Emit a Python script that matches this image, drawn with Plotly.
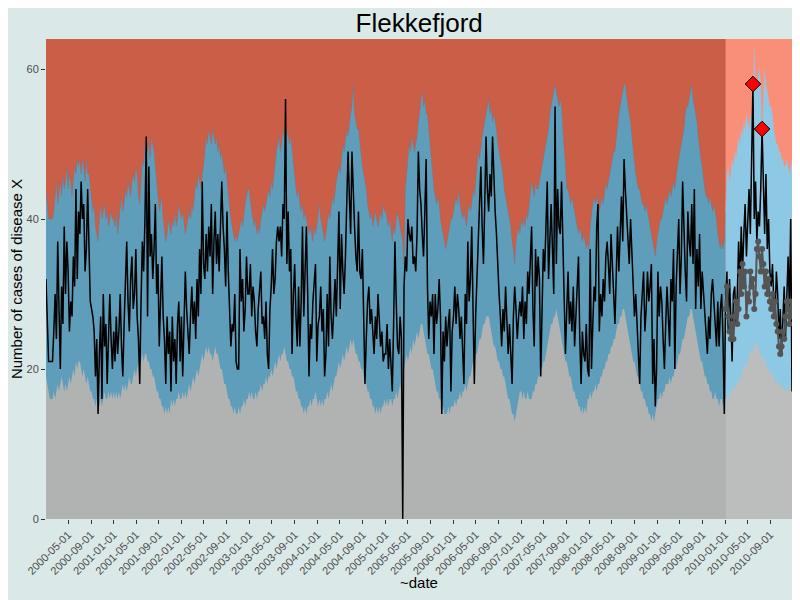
import pandas as pd
import plotly.graph_objects as go

# weekly counts of disease X, Flekkefjord, one list per ISO year (2004 and 2009 have 53 weeks)
obs_2000 = [32, 26, 21, 21, 21, 21, 25, 30, 24, 37, 28, 20, 31, 26, 39, 30, 37, 33, 25, 29,
            27, 35, 31, 44, 32, 41, 38, 45, 40, 42, 33, 36, 44, 37, 29, 28, 27, 25, 19, 24,
            14, 22, 27, 16, 30, 23, 26, 18, 25, 30, 24, 20]
obs_2001 = [25, 21, 27, 22, 25, 30, 23, 19, 26, 31, 37, 29, 25, 32, 35, 28, 30, 36, 27, 24,
            18, 29, 37, 33, 40, 51, 27, 47, 35, 38, 32, 36, 42, 30, 34, 23, 29, 35, 27, 24,
            18, 27, 22, 25, 17, 27, 21, 24, 18, 26, 29, 21]
obs_2002 = [27, 19, 26, 33, 28, 24, 22, 27, 31, 26, 29, 24, 32, 27, 36, 30, 45, 34, 32, 38,
            33, 39, 35, 42, 30, 37, 41, 34, 38, 33, 40, 45, 39, 36, 31, 41, 33, 28, 23, 26,
            25, 30, 21, 20, 20, 36, 29, 32, 25, 28, 35, 30]
obs_2003 = [30, 34, 27, 31, 29, 25, 23, 28, 31, 33, 26, 27, 24, 29, 22, 20, 28, 31, 36, 30,
            32, 37, 39, 37, 39, 35, 42, 40, 56, 34, 41, 33, 36, 22, 30, 34, 27, 23, 31, 23,
            29, 39, 27, 33, 39, 30, 19, 26, 24, 29, 31, 34]
obs_2004 = [21, 26, 27, 31, 25, 28, 19, 22, 30, 23, 35, 27, 24, 29, 32, 27, 36, 41, 28, 38,
            33, 30, 35, 41, 49, 43, 38, 49, 43, 39, 35, 33, 41, 33, 32, 36, 27, 18, 24, 29,
            31, 26, 28, 25, 22, 27, 24, 30, 26, 23, 25, 21, 22]
obs_2005 = [22, 26, 20, 24, 21, 17, 26, 37, 29, 23, 22, 27, 24, 0, 31, 35, 33, 40, 38, 37,
            39, 34, 35, 33, 38, 49, 44, 42, 38, 35, 41, 48, 31, 24, 29, 27, 30, 22, 30, 26,
            28, 32, 27, 14, 25, 21, 27, 23, 26, 28, 17, 25]
obs_2006 = [27, 31, 26, 30, 28, 24, 27, 23, 18, 30, 26, 37, 29, 32, 39, 28, 18, 27, 32, 36,
            40, 47, 39, 34, 42, 51, 44, 41, 46, 43, 51, 45, 41, 38, 33, 30, 27, 23, 28, 25,
            31, 27, 22, 26, 21, 18, 27, 31, 28, 24, 27, 29]
obs_2007 = [27, 31, 24, 29, 26, 33, 30, 35, 39, 28, 23, 36, 31, 35, 32, 19, 27, 36, 33, 40,
            45, 32, 38, 42, 36, 30, 55, 34, 44, 39, 38, 45, 37, 29, 22, 28, 33, 26, 29, 25,
            31, 23, 27, 30, 35, 24, 18, 25, 22, 21, 26, 20]
obs_2008 = [19, 36, 20, 26, 31, 29, 39, 42, 25, 30, 27, 32, 29, 35, 37, 34, 30, 38, 33, 30,
            26, 35, 39, 33, 40, 43, 37, 48, 44, 41, 38, 34, 40, 36, 31, 27, 30, 26, 24, 18,
            27, 30, 33, 25, 28, 33, 29, 31, 34, 18, 24, 15]
obs_2009 = [20, 33, 27, 31, 29, 24, 20, 26, 31, 27, 23, 32, 29, 36, 20, 31, 36, 40, 30, 35,
            45, 38, 33, 29, 41, 37, 35, 42, 34, 44, 28, 36, 31, 38, 28, 33, 30, 28, 25, 22,
            27, 24, 30, 32, 29, 25, 23, 29, 23, 28, 30, 24, 14]
obs_2010 = [29, 33, 25, 32, 27, 21, 30, 31, 26, 30, 37, 31, 39, 33, 38, 42, 35, 40, 44, 38,
            46, 58, 40, 45, 37, 41, 39, 44, 52, 43, 38, 46, 36, 40, 33, 31, 34, 29, 27, 33,
            30, 24, 28, 22, 26, 31, 24, 29, 35, 28, 40, 17]

# upper alert threshold
upper_2000 = [44, 42, 40, 40, 40, 40, 41, 43, 45, 42, 44, 45, 43, 46, 44, 45, 47, 44, 46, 45,
              43, 45, 47, 46, 48, 47, 48, 46, 48, 47, 45, 48, 46, 46, 44, 43, 41, 42, 39, 38,
              37, 40, 42, 40, 41, 42, 40, 41, 39, 40, 41, 40]
upper_2001 = [40, 39, 41, 38, 40, 42, 43, 41, 42, 44, 43, 45, 44, 43, 45, 46, 45, 47, 46, 43,
              42, 45, 48, 47, 50, 51, 49, 50, 48, 51, 50, 49, 47, 45, 43, 41, 42, 43, 40, 38,
              37, 38, 40, 39, 38, 40, 39, 41, 39, 40, 42, 41]
upper_2002 = [40, 41, 39, 38, 39, 40, 41, 40, 42, 41, 43, 45, 44, 46, 45, 44, 46, 47, 49, 51,
              50, 52, 51, 50, 52, 51, 50, 51, 49, 50, 48, 49, 47, 46, 47, 45, 44, 42, 40, 39,
              38, 37, 38, 37, 38, 39, 40, 39, 41, 42, 43, 44]
upper_2003 = [44, 42, 41, 40, 39, 40, 38, 39, 38, 40, 41, 42, 41, 42, 43, 44, 43, 45, 44, 46,
              47, 49, 50, 51, 49, 50, 52, 51, 50, 52, 51, 50, 51, 49, 47, 45, 44, 43, 44, 42,
              41, 42, 40, 41, 40, 39, 38, 39, 38, 37, 39, 38]
upper_2004 = [39, 41, 42, 40, 39, 38, 37, 38, 40, 41, 40, 42, 43, 42, 44, 45, 46, 47, 46, 48,
              50, 49, 51, 52, 51, 53, 54, 55, 58, 54, 53, 52, 52, 50, 49, 47, 46, 45, 44, 42,
              41, 40, 41, 39, 40, 41, 40, 39, 40, 41, 40, 42, 41]
upper_2005 = [41, 40, 39, 40, 38, 37, 39, 38, 40, 41, 40, 39, 38, 37, 34, 44, 46, 48, 50, 49,
              51, 50, 49, 50, 51, 53, 54, 56, 57, 55, 56, 54, 54, 52, 50, 47, 45, 44, 43, 42,
              43, 42, 40, 39, 38, 37, 36, 37, 38, 39, 40, 40]
upper_2006 = [41, 42, 43, 42, 44, 42, 41, 40, 41, 40, 39, 41, 42, 41, 42, 44, 43, 45, 47, 49,
              48, 50, 51, 52, 53, 54, 55, 56, 54, 55, 53, 54, 53, 52, 50, 49, 48, 47, 46, 44,
              43, 42, 41, 40, 39, 37, 36, 34, 37, 38, 39, 38]
upper_2007 = [40, 39, 40, 39, 41, 40, 42, 43, 45, 44, 43, 45, 44, 44, 45, 46, 47, 48, 49, 50,
              51, 52, 54, 55, 56, 57, 58, 57, 56, 55, 56, 55, 52, 50, 47, 44, 44, 43, 42, 43,
              42, 41, 40, 39, 38, 39, 38, 37, 38, 37, 36, 37]
upper_2008 = [36, 39, 41, 42, 43, 42, 43, 42, 41, 42, 43, 42, 44, 45, 44, 45, 46, 47, 48, 49,
              49, 51, 53, 54, 55, 56, 57, 58, 58, 56, 55, 54, 53, 51, 49, 47, 46, 45, 44, 44,
              43, 42, 42, 41, 42, 41, 40, 39, 38, 37, 36, 35]
upper_2009 = [37, 38, 39, 40, 40, 41, 42, 43, 42, 43, 44, 43, 44, 45, 44, 46, 47, 48, 49, 50,
              51, 52, 54, 55, 55, 56, 57, 58, 56, 55, 54, 53, 51, 49, 48, 47, 45, 44, 43, 43,
              42, 43, 42, 41, 42, 41, 40, 38, 37, 36, 37, 36, 37]
upper_2010 = [41, 46, 47, 45, 46, 48, 47, 49, 48, 50, 51, 50, 52, 51, 53, 52, 54, 53, 52, 54,
              53, 55, 63, 58, 57, 59, 60, 58, 50, 57, 60, 58, 57, 56, 55, 55, 54, 52, 51, 50,
              50, 49, 49, 48, 48, 47, 47, 48, 47, 46, 47, 48]

# lower threshold
lower_2000 = [19, 18, 17, 16, 16, 16, 17, 16, 17, 18, 17, 18, 19, 18, 17, 18, 17, 18, 19, 18,
              19, 20, 19, 21, 20, 21, 21, 20, 19, 20, 19, 18, 19, 18, 17, 17, 16, 16, 15, 16,
              15, 15, 16, 15, 16, 17, 16, 16, 17, 16, 17, 16]
lower_2001 = [17, 16, 17, 16, 17, 16, 17, 18, 17, 18, 17, 18, 19, 18, 18, 19, 20, 19, 20, 21,
              20, 21, 22, 21, 22, 22, 21, 21, 20, 20, 19, 19, 18, 17, 17, 16, 16, 15, 15, 14,
              15, 14, 15, 14, 16, 15, 16, 15, 16, 16, 17, 16]
lower_2002 = [16, 17, 16, 17, 16, 17, 18, 17, 18, 19, 18, 19, 20, 19, 20, 21, 22, 21, 22, 23,
              22, 23, 22, 22, 21, 22, 23, 22, 22, 21, 20, 20, 19, 18, 18, 17, 16, 16, 15, 15,
              14, 15, 14, 14, 15, 14, 15, 15, 16, 15, 16, 16]
lower_2003 = [17, 16, 17, 16, 16, 17, 16, 17, 17, 18, 17, 18, 18, 19, 18, 19, 19, 20, 19, 20,
              21, 20, 21, 22, 21, 22, 22, 23, 22, 21, 21, 20, 20, 19, 19, 18, 17, 17, 16, 16,
              15, 15, 14, 15, 14, 15, 15, 16, 15, 16, 16, 17]
lower_2004 = [16, 15, 16, 15, 16, 15, 16, 16, 17, 16, 17, 18, 17, 18, 19, 19, 20, 21, 20, 21,
              22, 21, 22, 23, 22, 23, 24, 23, 24, 23, 22, 22, 21, 21, 20, 20, 19, 19, 18, 17,
              17, 16, 16, 15, 15, 14, 15, 14, 15, 14, 15, 15, 16]
lower_2005 = [15, 16, 15, 16, 16, 15, 16, 16, 17, 16, 17, 18, 17, 19, 20, 21, 22, 21, 22, 23,
              22, 24, 23, 24, 25, 24, 25, 26, 26, 25, 24, 23, 22, 22, 21, 20, 20, 19, 18, 17,
              17, 16, 16, 15, 15, 14, 14, 14, 15, 14, 15, 15]
lower_2006 = [15, 16, 15, 16, 16, 17, 16, 17, 17, 18, 17, 18, 19, 19, 20, 21, 21, 22, 22, 23,
              24, 24, 25, 26, 26, 27, 27, 27, 26, 25, 24, 23, 23, 22, 21, 21, 20, 20, 19, 19,
              18, 17, 16, 16, 15, 14, 14, 13, 14, 15, 16, 17]
lower_2007 = [17, 16, 17, 16, 16, 17, 16, 16, 16, 17, 17, 18, 18, 19, 19, 20, 20, 21, 21, 22,
              23, 24, 25, 26, 26, 27, 27, 28, 27, 26, 25, 24, 23, 22, 21, 21, 20, 19, 19, 18,
              17, 17, 16, 16, 15, 15, 14, 15, 14, 15, 14, 16]
lower_2008 = [16, 17, 16, 17, 17, 18, 17, 18, 18, 19, 19, 20, 20, 21, 21, 22, 22, 23, 23, 24,
              24, 25, 26, 26, 27, 27, 28, 28, 27, 26, 25, 24, 23, 22, 21, 21, 20, 19, 19, 18,
              17, 17, 16, 16, 15, 15, 14, 14, 13, 14, 13, 14]
lower_2009 = [15, 16, 16, 17, 16, 17, 17, 18, 18, 18, 19, 18, 19, 19, 20, 20, 21, 22, 22, 23,
              24, 24, 25, 26, 27, 27, 28, 28, 27, 26, 25, 24, 23, 22, 21, 21, 20, 19, 19, 18,
              18, 17, 17, 16, 16, 17, 16, 16, 15, 16, 16, 15, 16]
lower_2010 = [16, 16, 17, 16, 17, 17, 18, 17, 18, 18, 19, 18, 19, 20, 20, 21, 20, 21, 22, 22,
              23, 22, 23, 24, 23, 23, 22, 22, 21, 22, 21, 21, 20, 20, 19, 20, 19, 19, 18, 18,
              19, 18, 18, 17, 18, 17, 17, 18, 17, 17, 18, 17]

# expected (baseline) values for the 2010 surveillance year
baseline_2010 = [28, 31, 27, 25, 24, 26, 24, 27, 29, 26, 28, 33, 30, 34, 31, 33, 27, 30, 29, 33,
                 31, 32, 28, 30, 36, 37, 35, 33, 36, 34, 31, 33, 30, 32, 29, 28, 30, 27, 29, 26,
                 25, 23, 22, 23, 25, 24, 27, 29, 28, 26, 29, 27]

observed = (obs_2000 + obs_2001 + obs_2002 + obs_2003 + obs_2004 + obs_2005 + obs_2006
            + obs_2007 + obs_2008 + obs_2009 + obs_2010)
upper = (upper_2000 + upper_2001 + upper_2002 + upper_2003 + upper_2004 + upper_2005
         + upper_2006 + upper_2007 + upper_2008 + upper_2009 + upper_2010)
lower = (lower_2000 + lower_2001 + lower_2002 + lower_2003 + lower_2004 + lower_2005
         + lower_2006 + lower_2007 + lower_2008 + lower_2009 + lower_2010)

dates = pd.date_range("2000-01-03", periods=len(observed), freq="7D")
n_train = len(observed) - len(obs_2010)  # first week of 2010

tick_dates = pd.date_range("2000-05-01", "2010-09-01", freq="4MS")

RED = "#CA5E46"
BLUE = "#5F9EBA"
GREY = "#B1B3B3"
SALMON = "#F98F79"
LIGHT_BLUE = "#8DC9E5"
LIGHT_GREY = "#BCBEBE"

fig = go.Figure()

# surveillance year gets lighter colours
fig.add_shape(type="rect", xref="x", yref="paper", x0=dates[n_train], x1=dates[-1],
              y0=0, y1=1, fillcolor=SALMON, line_width=0, layer="below")

fig.add_trace(go.Scatter(x=dates[:n_train + 1], y=upper[:n_train + 1], mode="lines",
                         fill="tozeroy", fillcolor=BLUE,
                         line=dict(width=0.7, color="rgba(130,110,125,0.6)"), hoverinfo="skip"))
fig.add_trace(go.Scatter(x=dates[n_train:], y=upper[n_train:], mode="lines",
                         fill="tozeroy", fillcolor=LIGHT_BLUE,
                         line=dict(width=0.7, color="rgba(190,175,185,0.6)"), hoverinfo="skip"))
fig.add_trace(go.Scatter(x=dates[:n_train + 1], y=lower[:n_train + 1], mode="lines",
                         fill="tozeroy", fillcolor=GREY, line=dict(width=0), hoverinfo="skip"))
fig.add_trace(go.Scatter(x=dates[n_train:], y=lower[n_train:], mode="lines",
                         fill="tozeroy", fillcolor=LIGHT_GREY, line=dict(width=0), hoverinfo="skip"))

fig.add_trace(go.Scatter(x=dates, y=observed, mode="lines",
                         line=dict(color="black", width=1.5), name="n"))
fig.add_trace(go.Scatter(x=dates[n_train:], y=baseline_2010, mode="lines+markers",
                         line=dict(color="#555555", width=2),
                         marker=dict(size=6, color="#555555"), name="baseline"))

alerts = [i for i in range(n_train, len(observed)) if observed[i] > upper[i]]
fig.add_trace(go.Scatter(x=[dates[i] for i in alerts], y=[observed[i] for i in alerts],
                         mode="markers", name="alert",
                         marker=dict(symbol="diamond", size=12, color="red",
                                     line=dict(color="black", width=1))))

fig.update_layout(
    width=800, height=600,
    title=dict(text="Flekkefjord", x=0.514, xanchor="center", yref="container",
               y=0.975, yanchor="middle", font=dict(size=26, color="black")),
    font=dict(family="Liberation Sans, Arial, sans-serif", color="#4D4D4D"),
    paper_bgcolor="#DAE8E8",
    plot_bgcolor=RED,
    showlegend=False,
    margin=dict(l=38, r=16, t=31, b=89),
)
fig.update_xaxes(
    range=[dates[0], dates[-1]], tickvals=list(tick_dates),
    ticktext=[d.strftime("%Y-%m-%d") for d in tick_dates], tickangle=-45,
    ticks="outside", ticklen=4, tickcolor="#333333", tickfont=dict(size=11),
    showgrid=False, zeroline=False, automargin=False,
)
fig.update_yaxes(
    range=[0, 64], tickvals=[0, 20, 40, 60], ticks="outside", ticklen=4,
    tickcolor="#333333", tickfont=dict(size=11), showgrid=False, zeroline=False,
    automargin=False,
    title=dict(text="Number of cases of disease X", font=dict(size=15, color="black"),
               standoff=4),
)
fig.add_annotation(text="~date", xref="paper", yref="paper", x=0.5, y=-0.133,
                   xanchor="center", yanchor="middle", showarrow=False,
                   font=dict(size=15, color="black"))

fig.write_html("out.html")
